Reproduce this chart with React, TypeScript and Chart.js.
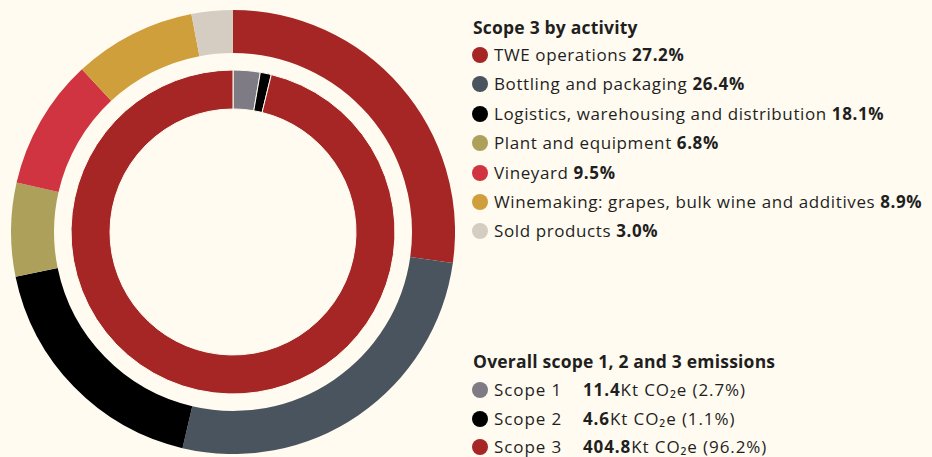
import React, { useEffect, useRef } from "react";
import { Chart, registerables } from "chart.js";

Chart.register(...registerables);

const activityLabels = [
  "TWE operations",
  "Bottling and packaging",
  "Logistics, warehousing and distribution",
  "Plant and equipment",
  "Vineyard",
  "Winemaking: grapes, bulk wine and additives",
  "Sold products",
];
const activityValues = [27.2, 26.4, 18.1, 6.8, 9.5, 8.9, 3.0];
const activityColors = ["#A52625", "#4A545E", "#000000", "#ADA05A", "#CF3440", "#CF9F3C", "#D5CDC2"];

const scopeLabels = ["Scope 1", "Scope 2", "Scope 3"];
const scopeKt = ["11.4", "4.6", "404.8"];
const scopeValues = [2.7, 1.1, 96.2];
const scopeColors = ["#7E7B84", "#000000", "#A52625"];

const BG = "#FFFBF0";
const TEXT = "#1F1F1F";
const FONT = "'Open Sans', 'DejaVu Sans', sans-serif";

function Dot({ color }: { color: string }) {
  return (
    <span
      style={{
        display: "inline-block",
        width: 16,
        height: 16,
        borderRadius: "50%",
        background: color,
        position: "absolute",
        left: 0,
        top: "50%",
        transform: "translateY(-50%)",
      }}
    />
  );
}

export default function App() {
  const ref = useRef<HTMLCanvasElement | null>(null);

  useEffect(() => {
    if (!ref.current) return;
    const chart = new Chart(ref.current, {
      type: "doughnut",
      data: {
        labels: activityLabels,
        datasets: [
          {
            data: activityValues,
            backgroundColor: activityColors,
            borderWidth: 0,
            weight: 43,
          } as any,
          {
            data: [1],
            backgroundColor: ["rgba(0,0,0,0)"],
            borderWidth: 0,
            weight: 17,
          } as any,
          {
            data: scopeValues,
            backgroundColor: scopeColors,
            borderWidth: 1,
            borderColor: BG,
            weight: 39,
          } as any,
        ],
      },
      options: {
        animation: false,
        responsive: false,
        maintainAspectRatio: false,
        cutout: "55.4%",
        layout: { padding: 0 },
        plugins: { legend: { display: false }, tooltip: { enabled: false } },
        events: [],
      },
    });
    return () => chart.destroy();
  }, []);

  const rowStyle = (top: number, size: number, spacing: number): React.CSSProperties => ({
    position: "absolute",
    left: 472,
    top: top - 11,
    height: 22,
    lineHeight: "22px",
    paddingLeft: 22,
    fontSize: size,
    letterSpacing: spacing,
    whiteSpace: "nowrap",
    color: TEXT,
  });

  const headStyle = (top: number): React.CSSProperties => ({
    position: "absolute",
    left: 473,
    top,
    fontSize: 17.5,
    fontWeight: 700,
    lineHeight: "22px",
    letterSpacing: 0.2,
    color: TEXT,
    whiteSpace: "nowrap",
  });

  return (
    <div
      style={{
        position: "fixed",
        left: 0,
        top: 0,
        width: 932,
        height: 457,
        background: BG,
        fontFamily: FONT,
        overflow: "hidden",
      }}
    >
      <canvas
        ref={ref}
        width={444}
        height={444}
        style={{ position: "absolute", left: 11, top: 9.5, width: 444, height: 444 }}
      />
      <div style={headStyle(16)}>Scope 3 by activity</div>
      {activityLabels.map((l, i) => (
        <div key={l} style={rowStyle(55 + i * 29.4, 17, 0.6)}>
          <Dot color={activityColors[i]} />
          {l} <b>{activityValues[i].toFixed(1)}%</b>
        </div>
      ))}
      <div style={headStyle(350)}>Overall scope 1, 2 and 3 emissions</div>
      {scopeLabels.map((l, i) => (
        <div key={l} style={rowStyle(390 + i * 28.5, 17, 0.9)}>
          <Dot color={scopeColors[i]} />
          {l}
          <span style={{ position: "absolute", left: 111 }}>
            <b>{scopeKt[i]}</b>Kt CO₂e ({scopeValues[i].toFixed(1)}%)
          </span>
        </div>
      ))}
    </div>
  );
}
